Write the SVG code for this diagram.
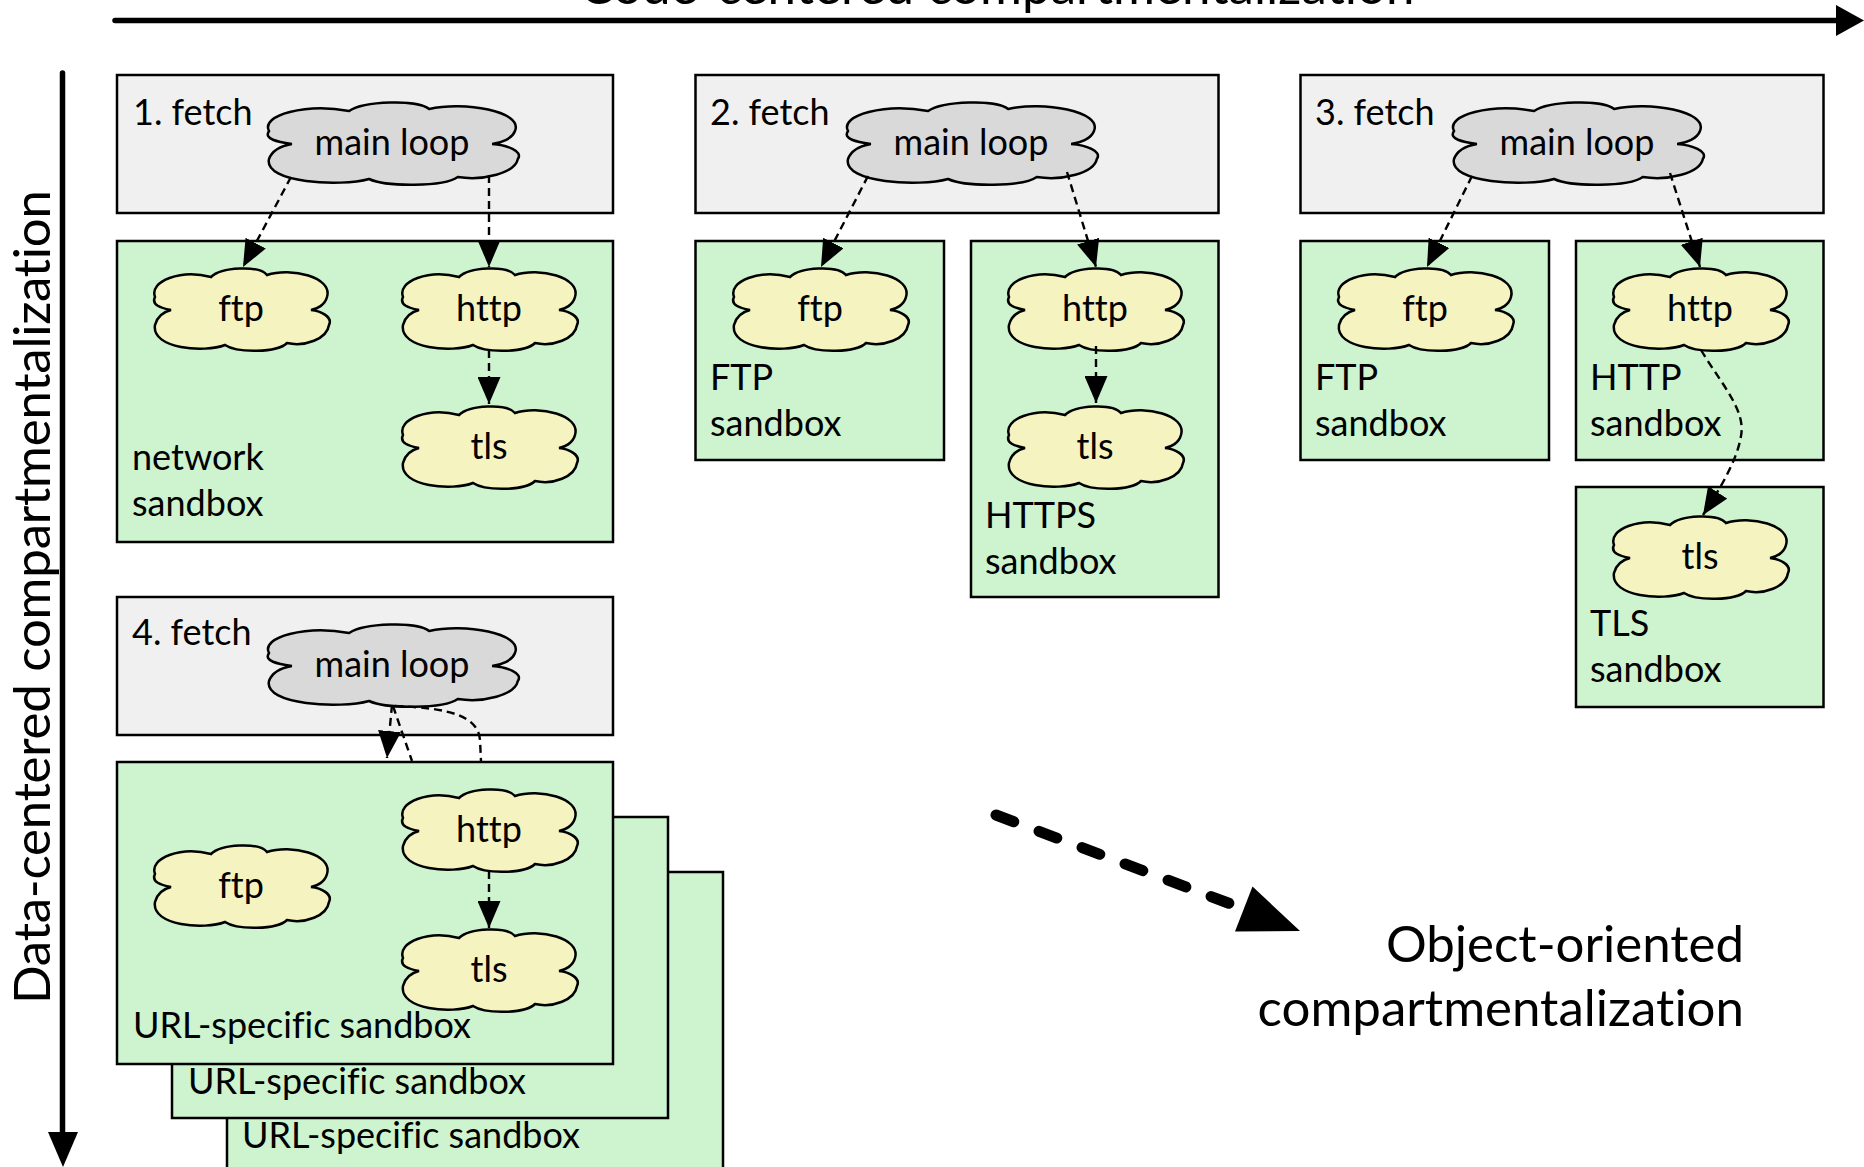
<svg xmlns="http://www.w3.org/2000/svg" width="1864" height="1167" viewBox="0 0 1864 1167">
  <style>
    text { font-family: Lato, "Open Sans", "DejaVu Sans", sans-serif; fill: #000; font-variant-ligatures: none; }
    .lbl { font-size: 36px; }
    .name { font-size: 36px; text-anchor: middle; }
    .big { font-size: 51px; }
    .host { fill: #f0f0f0; stroke: #000; stroke-width: 2.5; }
    .sbx { fill: #cdf3cf; stroke: #000; stroke-width: 2.5; }
    .mod { fill: #f5f3c0; stroke: #000; stroke-width: 2.5; }
    .loop { fill: #d9d9d9; stroke: #000; stroke-width: 2.5; }
    .call { fill: none; stroke: #000; stroke-width: 2.4; stroke-dasharray: 8 5; }
    .axis { stroke: #000; stroke-width: 5.5; stroke-linecap: round; fill: none; }
  </style>
  <defs>
    <!-- generic cloud outline, 180 x 80, centred on the origin -->
    <path id="cloud" vector-effect="non-scaling-stroke"
      d="M-70,1 C-80,-1 -90,-4 -86,-12 C-92,-28 -60,-40 -30,-32 C-20,-42 18,-44 26,-34 C50,-42 92,-32 86,-12 C84,-4 76,0 70,1 C80,2 92,8 88,16 C86,30 64,38 46,34 C36,44 -4,44 -16,36 C-36,44 -90,40 -86,16 C-84,8 -78,3 -70,1 Z"/>
    <marker id="ah" markerUnits="userSpaceOnUse" viewBox="0 0 27 23" markerWidth="27" markerHeight="23" refX="27" refY="11.5" orient="auto">
      <path d="M0,0 L27,11.5 L0,23 Z" fill="#000"/>
    </marker>
  </defs>

  <!-- axes -->
  <g id="axes">
    <line class="axis" x1="115" y1="20.5" x2="1840" y2="20.5"/>
    <polygon points="1836,5 1864,20.5 1836,36" fill="#000"/>
    <text class="big" x="997" y="4" text-anchor="middle" textLength="835">Code-centered compartmentalization</text>
    <line class="axis" x1="62.5" y1="73" x2="62.5" y2="1136"/>
    <polygon points="48,1132 78,1132 63,1167" fill="#000"/>
    <text class="big" transform="translate(50,597) rotate(-90)" text-anchor="middle" textLength="814">Data-centered compartmentalization</text>
  </g>

  <!-- 1. fetch: single network sandbox -->
  <g id="fetch1">
    <rect class="host" x="117" y="75" width="496" height="138"/>
    <text class="lbl" x="133" y="125">1. fetch</text>
    <g id="fetch1-main"><use href="#cloud" class="loop" transform="translate(392,143) scale(1.43,1)"/><text class="name" x="392" y="155">main loop</text></g>
  </g>
  <g id="fetch1-network-sandbox">
    <rect class="sbx" x="117" y="241" width="496" height="301"/>
    <g id="fetch1-ftp"><use href="#cloud" class="mod" transform="translate(241,309)"/><text class="name" x="241" y="321">ftp</text></g>
    <g id="fetch1-http"><use href="#cloud" class="mod" transform="translate(489,309)"/><text class="name" x="489" y="321">http</text></g>
    <g id="fetch1-tls"><use href="#cloud" class="mod" transform="translate(489,447)"/><text class="name" x="489" y="459">tls</text></g>
    <text class="lbl" x="132" y="470">network</text>
    <text class="lbl" x="132" y="516">sandbox</text>
  </g>

  <!-- 2. fetch: FTP and HTTPS sandboxes -->
  <g id="fetch2">
    <rect class="host" x="695.5" y="75" width="523" height="138"/>
    <text class="lbl" x="710" y="125">2. fetch</text>
    <g id="fetch2-main"><use href="#cloud" class="loop" transform="translate(971,143) scale(1.43,1)"/><text class="name" x="971" y="155">main loop</text></g>
  </g>
  <g id="fetch2-ftp-sandbox">
    <rect class="sbx" x="695.5" y="241" width="248.5" height="219"/>
    <g id="fetch2-ftp"><use href="#cloud" class="mod" transform="translate(820,309)"/><text class="name" x="820" y="321">ftp</text></g>
    <text class="lbl" x="710" y="390">FTP</text>
    <text class="lbl" x="710" y="436">sandbox</text>
  </g>
  <g id="fetch2-https-sandbox">
    <rect class="sbx" x="971" y="241" width="247.5" height="356"/>
    <g id="fetch2-http"><use href="#cloud" class="mod" transform="translate(1095,309)"/><text class="name" x="1095" y="321">http</text></g>
    <g id="fetch2-tls"><use href="#cloud" class="mod" transform="translate(1095,447)"/><text class="name" x="1095" y="459">tls</text></g>
    <text class="lbl" x="985" y="528">HTTPS</text>
    <text class="lbl" x="985" y="574">sandbox</text>
  </g>

  <!-- 3. fetch: FTP, HTTP and TLS sandboxes -->
  <g id="fetch3">
    <rect class="host" x="1300.5" y="75" width="523" height="138"/>
    <text class="lbl" x="1315" y="125">3. fetch</text>
    <g id="fetch3-main"><use href="#cloud" class="loop" transform="translate(1577,143) scale(1.43,1)"/><text class="name" x="1577" y="155">main loop</text></g>
  </g>
  <g id="fetch3-ftp-sandbox">
    <rect class="sbx" x="1300.5" y="241" width="248.5" height="219"/>
    <g id="fetch3-ftp"><use href="#cloud" class="mod" transform="translate(1425,309)"/><text class="name" x="1425" y="321">ftp</text></g>
    <text class="lbl" x="1315" y="390">FTP</text>
    <text class="lbl" x="1315" y="436">sandbox</text>
  </g>
  <g id="fetch3-http-sandbox">
    <rect class="sbx" x="1576" y="241" width="247.5" height="219"/>
    <g id="fetch3-http"><use href="#cloud" class="mod" transform="translate(1700,309)"/><text class="name" x="1700" y="321">http</text></g>
    <text class="lbl" x="1590" y="390">HTTP</text>
    <text class="lbl" x="1590" y="436">sandbox</text>
  </g>
  <g id="fetch3-tls-sandbox">
    <rect class="sbx" x="1576" y="487" width="247.5" height="220"/>
    <g id="fetch3-tls"><use href="#cloud" class="mod" transform="translate(1700,557)"/><text class="name" x="1700" y="569">tls</text></g>
    <text class="lbl" x="1590" y="636">TLS</text>
    <text class="lbl" x="1590" y="682">sandbox</text>
  </g>

  <!-- 4. fetch: one sandbox per URL -->
  <g id="fetch4">
    <rect class="host" x="117" y="597" width="496" height="138"/>
    <text class="lbl" x="132" y="645">4. fetch</text>
    <g id="fetch4-main"><use href="#cloud" class="loop" transform="translate(392,665) scale(1.43,1)"/><text class="name" x="392" y="677">main loop</text></g>
  </g>
  <g id="fetch4-url-sandbox-3">
    <rect class="sbx" x="227" y="872" width="496" height="320"/>
    <text class="lbl" x="242" y="1148">URL-specific sandbox</text>
  </g>
  <g id="fetch4-url-sandbox-2">
    <rect class="sbx" x="172" y="817" width="496" height="301"/>
    <text class="lbl" x="188" y="1094">URL-specific sandbox</text>
  </g>
  <g id="fetch4-url-sandbox-1">
    <rect class="sbx" x="117" y="762" width="496" height="302"/>
    <g id="fetch4-http"><use href="#cloud" class="mod" transform="translate(489,830)"/><text class="name" x="489" y="842">http</text></g>
    <g id="fetch4-ftp"><use href="#cloud" class="mod" transform="translate(241,886)"/><text class="name" x="241" y="898">ftp</text></g>
    <g id="fetch4-tls"><use href="#cloud" class="mod" transform="translate(489,970)"/><text class="name" x="489" y="982">tls</text></g>
    <text class="lbl" x="133" y="1038">URL-specific sandbox</text>
  </g>

  <!-- calls between components -->
  <g id="connectors">
    <path class="call" marker-end="url(#ah)" d="M291,177 L243,267"/>
    <path class="call" marker-end="url(#ah)" d="M489,175 L489,267"/>
    <path class="call" marker-end="url(#ah)" d="M489,350 L489,404"/>

    <path class="call" marker-end="url(#ah)" d="M868,176 L821,267"/>
    <path class="call" marker-end="url(#ah)" d="M1067,172 L1096,267"/>
    <path class="call" marker-end="url(#ah)" d="M1096,346 L1096,403"/>

    <path class="call" marker-end="url(#ah)" d="M1472,176 L1427,267"/>
    <path class="call" marker-end="url(#ah)" d="M1670,173 L1700,267"/>
    <path class="call" marker-end="url(#ah)" d="M1701,350 C1722,385 1746,410 1741,436 C1737,462 1716,495 1703,515"/>

    <path class="call" marker-end="url(#ah)" d="M392,705 L387,758"/>
    <path class="call" d="M393,706 L412,761"/>
    <path class="call" d="M395,706 C450,708 478,716 480,740 L481,761"/>
    <path class="call" marker-end="url(#ah)" d="M489,871 L489,928"/>
  </g>

  <!-- trend towards object-oriented compartmentalization -->
  <g id="trend">
    <path d="M996,815 L1244,909" fill="none" stroke="#000" stroke-width="11" stroke-linecap="round" stroke-dasharray="19 27"/>
    <polygon points="1300,931 1235,931.5 1252.5,886.5" fill="#000"/>
    <text class="big" x="1744" y="962" text-anchor="end">Object-oriented</text>
    <text class="big" x="1744" y="1026" text-anchor="end">compartmentalization</text>
  </g>
</svg>
